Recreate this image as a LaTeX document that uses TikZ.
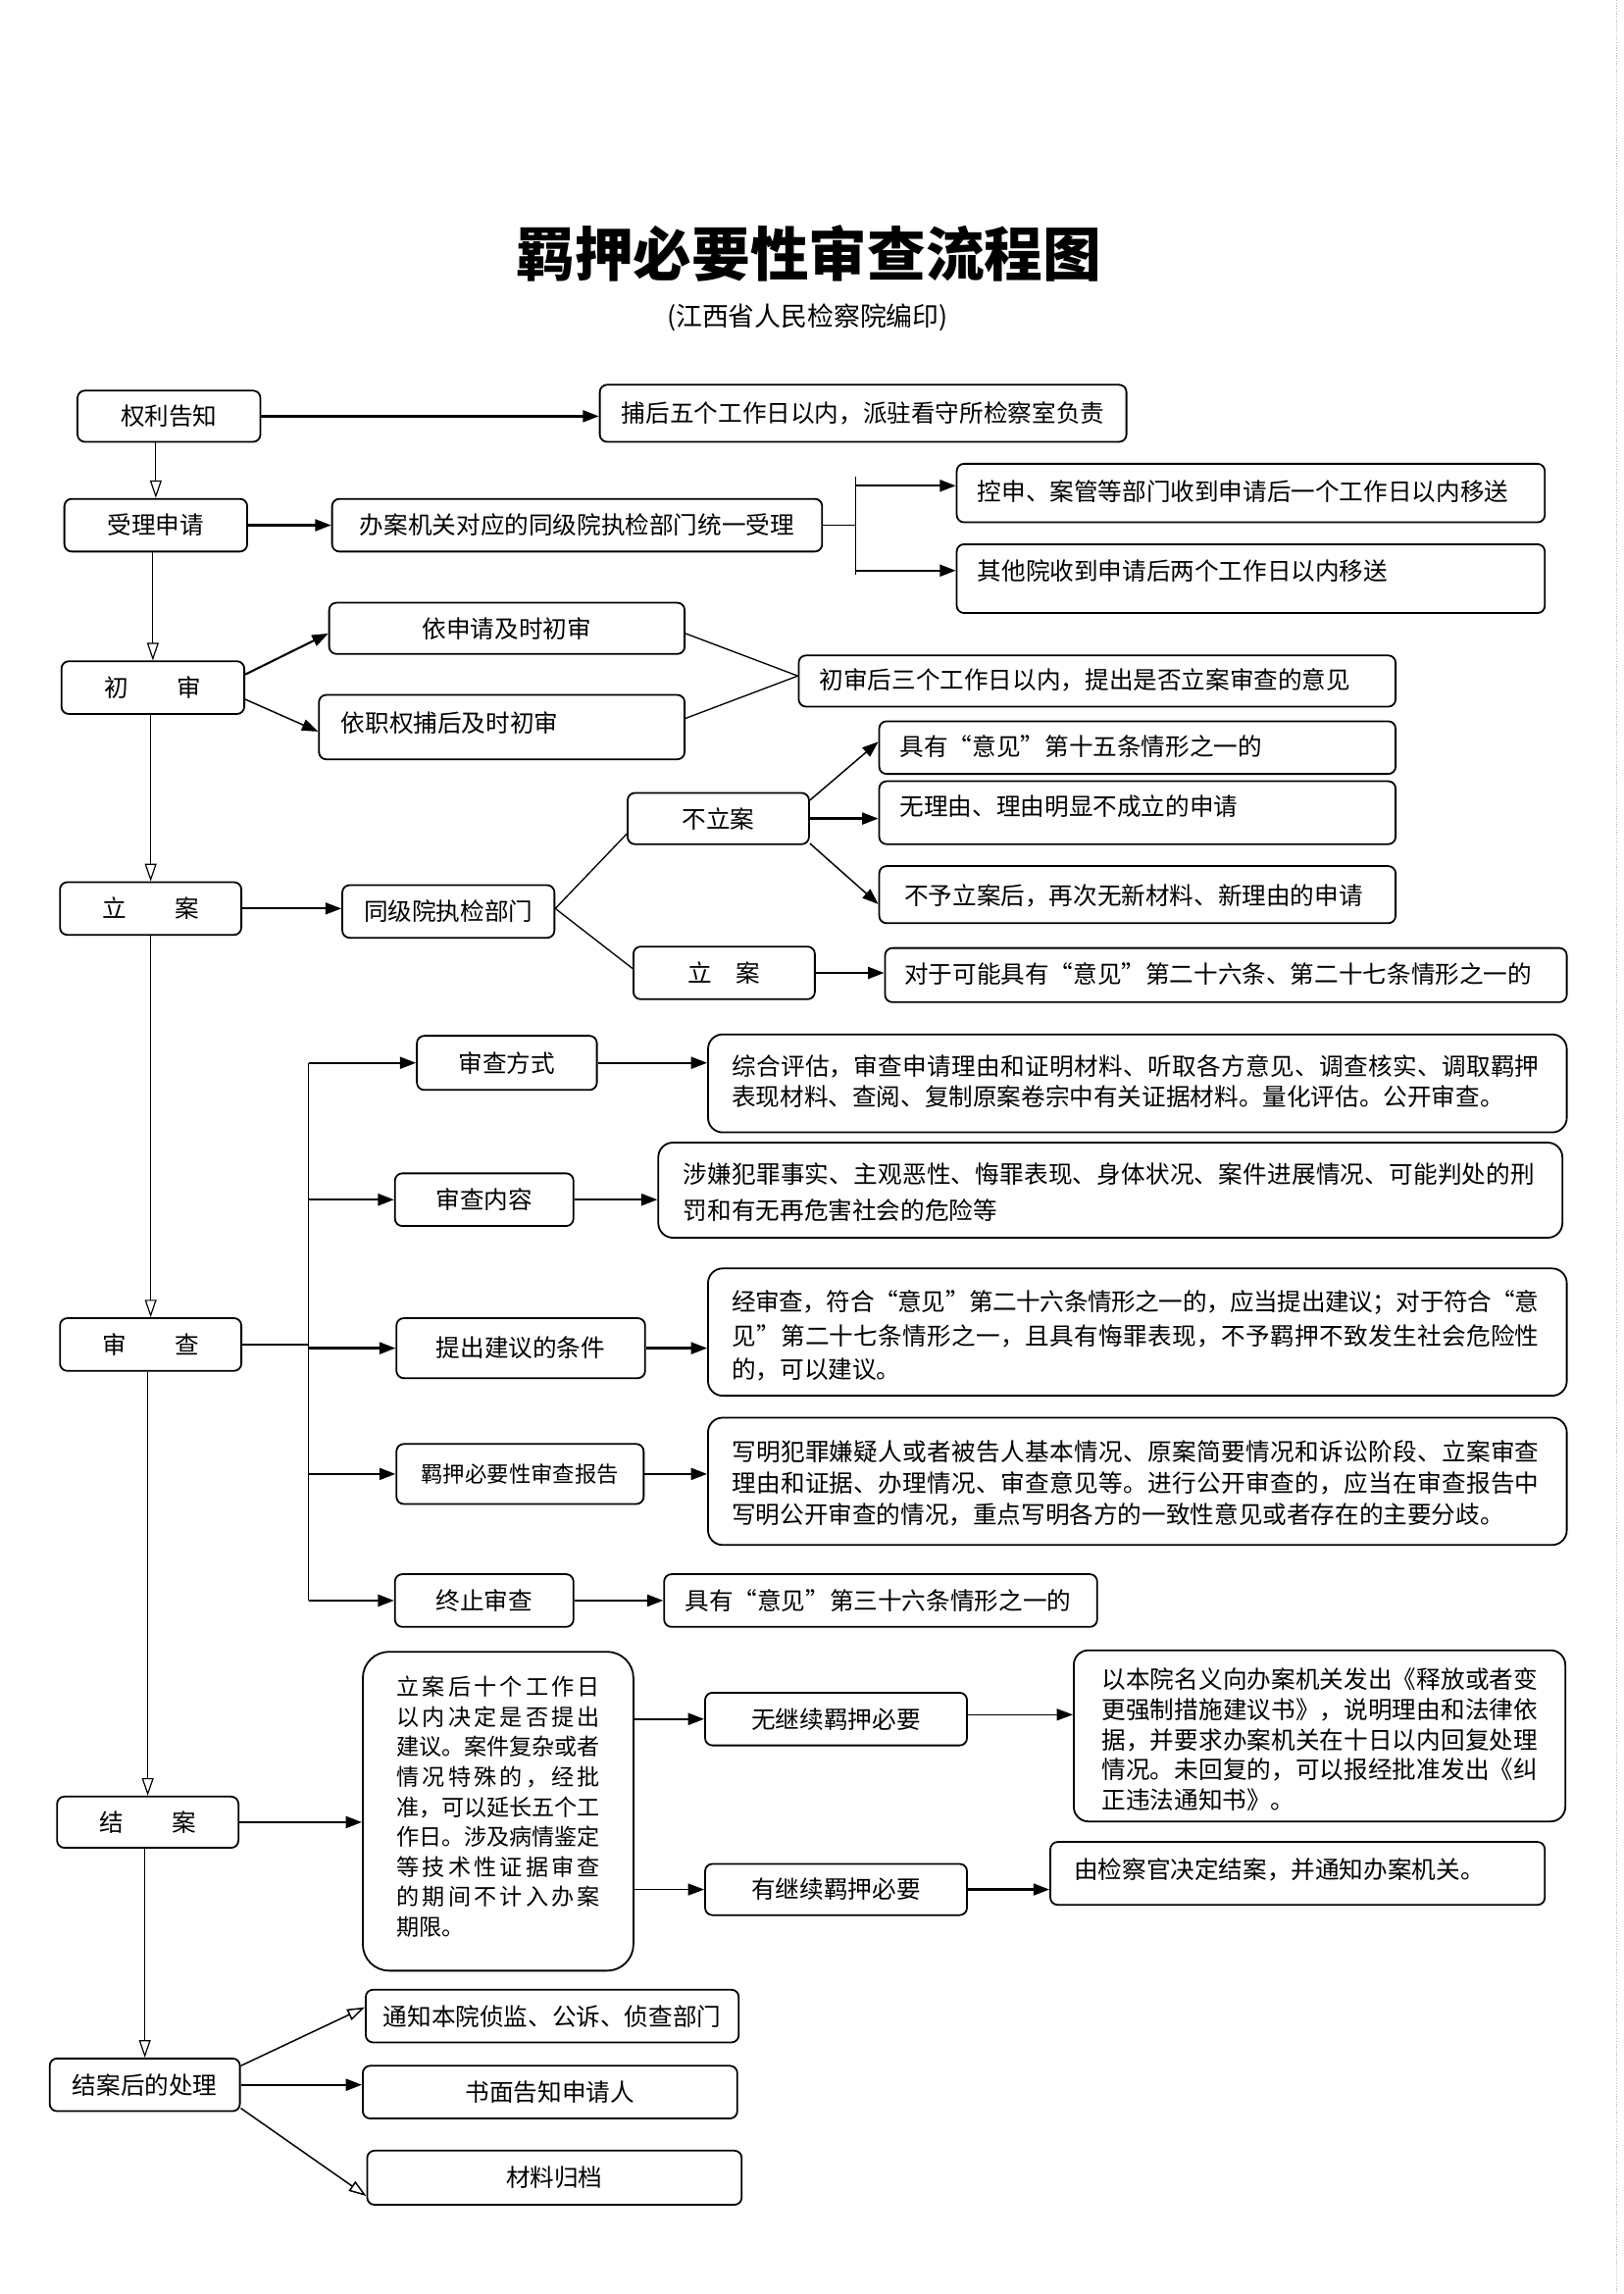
\documentclass[tikz,border=0pt]{standalone}
\usepackage{fontspec}
\setmainfont{Noto Sans CJK SC}
\usetikzlibrary{arrows.meta,fit,calc}
\makeatletter
\newcommand\jl[2]{\hbox to #1{\@tfor\jl@c:=#2\do{\jl@c\hskip0pt plus1fil minus.12em}\unskip}}
\makeatother
\begin{document}
\begin{tikzpicture}[x=1pt,y=-1pt,
 box/.style={draw, line width=1.2pt, rounded corners=5pt, inner sep=0pt},
 bigbox/.style={box, rounded corners=10pt},
 txt/.style={inner sep=0pt, font=\fontsize{16.5}{21}\selectfont},
 arr/.style={-{Triangle[length=11pt,width=8pt]}, line width=1.6pt},
 arrm/.style={-{Triangle[length=11pt,width=8pt]}, line width=1.0pt},
 arro/.style={-{Triangle[open,length=12pt,width=8pt]}, line width=0.8pt},
 ln/.style={line width=0.9pt}]
\useasboundingbox (0,0) rectangle (1110,1568);
\draw[gray!50, densely dotted, line width=0.8pt] (1105,0) -- (1105,1568);

% title
\node[inner sep=0pt, font=\fontsize{40}{40}\selectfont\bfseries] (title) at (553,173) {羁押必要性审查流程图};
\node[inner sep=0pt, font=\fontsize{18}{18}\selectfont] (subtitle) at (552,217) {(江西省人民检察院编印)};

% row 1
\node[box, fit={(53,267)(178,302)}] (quanli) {};
\node[txt] (quanliT) at (quanli.center) {权利告知};
\node[box, fit={(410,263)(770,302)}] (buhou) {};
\node[txt] (buhouT) at (buhou.center) {捕后五个工作日以内，派驻看守所检察室负责};

% row 2
\node[box, fit={(44,341)(169,377)}] (shouli) {};
\node[txt] (shouliT) at (shouli.center) {受理申请};
\node[box, fit={(227,341)(562,377)}] (banan) {};
\node[txt] (bananT) at (banan.center) {办案机关对应的同级院执检部门统一受理};
\node[box, fit={(654,317)(1056,357)}] (kongshen) {};
\node[txt, anchor=west] (kongshenT) at (668,336) {控申、案管等部门收到申请后一个工作日以内移送};
\node[box, fit={(654,372)(1056,419)}] (qita) {};
\node[txt, anchor=west] (qitaT) at (668,390) {其他院收到申请后两个工作日以内移送};

% chushen
\node[box, fit={(42,452)(167,488)}] (chushen) {};
\node[txt] (chushenT) at (chushen.center) {初\hspace{2em}审};
\node[box, fit={(225,412)(468,447)}] (yisq) {};
\node[txt] (yisqT) at (yisq.center) {依申请及时初审};
\node[box, fit={(218,475)(468,519)}] (yizq) {};
\node[txt, anchor=west] (yizqT) at (233,494) {依职权捕后及时初审};
\node[box, fit={(546,448)(954,483)}] (chushenhou) {};
\node[txt, anchor=west] (chushenhouT) at (560,465) {初审后三个工作日以内，提出是否立案审查的意见};

% lian
\node[box, fit={(41,603)(165,639)}] (lian1) {};
\node[txt] (lian1T) at (lian1.center) {立\hspace{2em}案};
\node[box, fit={(234,605)(379,641)}] (tongji) {};
\node[txt] (tongjiT) at (tongji.center) {同级院执检部门};
\node[box, fit={(429,542)(553,577)}] (bulian) {};
\node[txt] (bulianT) at (bulian.center) {不立案};
\node[box, fit={(433,647)(557,683)}] (lian2) {};
\node[txt] (lian2T) at (lian2.center) {立\hspace{1em}案};
\node[box, fit={(601,493)(954,529)}] (juyou15) {};
\node[txt, anchor=west] (juyou15T) at (615,510) {具有“意见”第十五条情形之一的};
\node[box, fit={(601,534)(954,577)}] (wuliyou) {};
\node[txt, anchor=west] (wuliyouT) at (615,551) {无理由、理由明显不成立的申请};
\node[box, fit={(601,592)(954,631)}] (buyu) {};
\node[txt, anchor=west] (buyuT) at (618,612) {不予立案后，再次无新材料、新理由的申请};
\node[box, fit={(605,648)(1071,685)}] (duiyu) {};
\node[txt, anchor=west] (duiyuT) at (618,666) {对于可能具有“意见”第二十六条、第二十七条情形之一的};

% shencha
\node[box, fit={(285,708)(408,745)}] (scfs) {};
\node[txt] (scfsT) at (scfs.center) {审查方式};
\node[bigbox, fit={(484,707)(1071,774)}] (zonghe) {};
\node[txt, anchor=west, align=left, font=\fontsize{16.5}{21}\selectfont] (zongheT) at (500,739) {\jl{552pt}{综合评估，审查申请理由和证明材料、听取各方意见、调查核实、调取羁押}\\表现材料、查阅、复制原案卷宗中有关证据材料。量化评估。公开审查。};
\node[box, fit={(270,802)(392,838)}] (scnr) {};
\node[txt] (scnrT) at (scnr.center) {审查内容};
\node[bigbox, fit={(450,781)(1068,846)}] (shexian) {};
\node[txt, anchor=west, align=left, font=\fontsize{16.5}{25}\selectfont] (shexianT) at (467,815) {\jl{582pt}{涉嫌犯罪事实、主观恶性、悔罪表现、身体状况、案件进展情况、可能判处的刑}\\罚和有无再危害社会的危险等};
\node[box, fit={(41,901)(165,937)}] (shencha) {};
\node[txt] (shenchaT) at (shencha.center) {审\hspace{2em}查};
\node[box, fit={(271,901)(441,942)}] (tichu) {};
\node[txt] (tichuT) at (tichu.center) {提出建议的条件};
\node[bigbox, fit={(484,867)(1071,954)}] (jingsc) {};
\node[txt, anchor=west, align=left, font=\fontsize{16.5}{23}\selectfont] (jingscT) at (500,913) {\jl{552pt}{经审查，符合“意见”第二十六条情形之一的，应当提出建议；对于符合“意}\\\jl{552pt}{见”第二十七条情形之一，且具有悔罪表现，不予羁押不致发生社会危险性}\\的，可以建议。};
\node[box, fit={(271,987)(440,1028)}] (baogao) {};
\node[txt, font=\fontsize{15}{18}\selectfont] (baogaoT) at (baogao.center) {羁押必要性审查报告};
\node[bigbox, fit={(484,969)(1071,1056)}] (xieming) {};
\node[txt, anchor=west, align=left, font=\fontsize{16.5}{21.5}\selectfont] (xiemingT) at (500,1014) {\jl{552pt}{写明犯罪嫌疑人或者被告人基本情况、原案简要情况和诉讼阶段、立案审查}\\\jl{552pt}{理由和证据、办理情况、审查意见等。进行公开审查的，应当在审查报告中}\\写明公开审查的情况，重点写明各方的一致性意见或者存在的主要分歧。};
\node[box, fit={(270,1076)(392,1112)}] (zhongzhi) {};
\node[txt] (zhongzhiT) at (zhongzhi.center) {终止审查};
\node[box, fit={(454,1076)(750,1112)}] (juyou36) {};
\node[txt, anchor=west] (juyou36T) at (468,1094) {具有“意见”第三十六条情形之一的};

% jiean
\node[box, fit={(39,1228)(163,1263)}] (jiean) {};
\node[txt] (jieanT) at (jiean.center) {结\hspace{2em}案};
\node[box, rounded corners=18pt, fit={(248,1129)(433,1347)}] (tall) {};
\node[txt, anchor=west, align=left, font=\fontsize{15.5}{20.5}\selectfont] (tallT) at (271,1235) {\jl{139pt}{立案后十个工作日}\\\jl{139pt}{以内决定是否提出}\\\jl{139pt}{建议。案件复杂或者}\\\jl{139pt}{情况特殊的，经批}\\\jl{139pt}{准，可以延长五个工}\\\jl{139pt}{作日。涉及病情鉴定}\\\jl{139pt}{等技术性证据审查}\\\jl{139pt}{的期间不计入办案}\\期限。};
\node[box, fit={(482,1157)(661,1193)}] (wujixu) {};
\node[txt] (wujixuT) at (wujixu.center) {无继续羁押必要};
\node[bigbox, fit={(734,1128)(1070,1245)}] (yibenyuan) {};
\node[txt, anchor=west, align=left, font=\fontsize{16.5}{20.5}\selectfont] (yibenyuanT) at (753,1189) {\jl{298pt}{以本院名义向办案机关发出《释放或者变}\\\jl{298pt}{更强制措施建议书》，说明理由和法律依}\\\jl{298pt}{据，并要求办案机关在十日以内回复处理}\\\jl{298pt}{情况。未回复的，可以报经批准发出《纠}\\正违法通知书》。};
\node[box, fit={(482,1274)(661,1309)}] (youjixu) {};
\node[txt] (youjixuT) at (youjixu.center) {有继续羁押必要};
\node[box, fit={(718,1259)(1056,1302)}] (youjcg) {};
\node[txt, anchor=west] (youjcgT) at (734,1278) {由检察官决定结案，并通知办案机关。};

% after
\node[box, fit={(34,1407)(164,1443)}] (jieanhou) {};
\node[txt] (jieanhouT) at (jieanhou.center) {结案后的处理};
\node[box, fit={(250,1360)(505,1396)}] (tongzhi) {};
\node[txt] (tongzhiT) at (tongzhi.center) {通知本院侦监、公诉、侦查部门};
\node[box, fit={(248,1412)(504,1448)}] (shumian) {};
\node[txt] (shumianT) at (shumian.center) {书面告知申请人};
\node[box, fit={(251,1470)(507,1507)}] (cailiao) {};
\node[txt] (cailiaoT) at (cailiao.center) {材料归档};

% ===== connectors =====
% main vertical
\draw[arro] (shouli.north |- quanli.south) -- (shouli.north);
\draw[arro] (chushen.north |- shouli.south) -- (chushen.north);
\draw[arro] (lian1.north |- chushen.south) -- (lian1.north);
\draw[arro] (shencha.north |- lian1.south) -- (shencha.north);
\draw[arro] (jiean.north |- shencha.south) -- (jiean.north);
\draw[arro] (jieanhou.north |- jiean.south) -- (jieanhou.north);

\draw[arr] (quanli.east) -- (quanli.east -| buhou.west);
\draw[arr] (shouli.east) -- (shouli.east -| banan.west);
\coordinate (sp) at (585,359);
\coordinate (spT) at (585,326);
\coordinate (spB) at (585,393);
\draw[line width=1.3pt] (banan.east) -- (sp);
\draw[ln] (spT) -- (spB);
\coordinate (k1) at ([yshift=5pt]kongshen.west);
\coordinate (q1) at ([yshift=5.5pt]qita.west);
\draw[arr] (sp |- k1) -- (k1);
\draw[arr] (sp |- q1) -- (q1);

% chushen
\draw[arr, line width=1.4pt] ([yshift=9pt]chushen.east) -- ([yshift=-3.5pt]yisq.west);
\draw[arrm] ([yshift=-8pt]chushen.east) -- ([yshift=-3pt]yizq.west);
\draw[ln] ([yshift=-3.5pt]yisq.east) -- ([yshift=3.5pt]chushenhou.west);
\draw[ln] ([yshift=6pt]yizq.east) -- ([yshift=3.5pt]chushenhou.west);

% lian
\draw[arrm, line width=1.3pt] (lian1.east) -- (lian1.east -| tongji.west);
\draw[ln] ([yshift=2pt]tongji.east) -- ([yshift=-10.5pt]bulian.west);
\draw[ln] ([yshift=2pt]tongji.east) -- ([yshift=3pt]lian2.west);
\draw[arrm] ([yshift=12.5pt]bulian.east) -- ([yshift=4pt]juyou15.west);
\draw[arr] (bulian.east) -- (bulian.east -| wuliyou.west);
\draw[arrm] ([yshift=-17pt]bulian.east) -- ([yshift=-6.5pt]buyu.west);
\draw[arr] (lian2.east) -- (lian2.east -| duiyu.west);

% shencha branch
\coordinate (br) at (211,919);
\draw[line width=1.3pt] (shencha.east) -- (br);
\draw[ln] (br |- scfs.west) -- (br |- zhongzhi.west);
\draw[arr] (br |- scfs.west) -- (scfs.west);
\draw[arr] (br |- scnr.west) -- (scnr.west);
\draw[arr] (br |- tichu.west) -- (tichu.west);
\draw[arr] (br |- baogao.west) -- (baogao.west);
\draw[arr] (br |- zhongzhi.west) -- (zhongzhi.west);
\draw[arr] (scfs.east) -- (scfs.east -| zonghe.west);
\draw[arr] (scnr.east) -- (scnr.east -| shexian.west);
\draw[arr] (tichu.east) -- (tichu.east -| jingsc.west);
\draw[arr] (baogao.east) -- (baogao.east -| xieming.west);
\draw[arr] (zhongzhi.east) -- (zhongzhi.east -| juyou36.west);

% jiean
\draw[arr] (jiean.east) -- (jiean.east -| tall.west);
\draw[arr] (tall.east |- wujixu.west) -- (wujixu.west);
\draw[arrm] (tall.east |- youjixu.west) -- (youjixu.west);
\draw[arrm] ([yshift=3pt]wujixu.east) -- ([yshift=3pt]wujixu.east -| yibenyuan.west);
\draw[arr] (youjixu.east) -- (youjixu.east -| youjcg.west);

% after
\draw[arro, line width=1pt] ([yshift=13pt]jieanhou.east) -- ([yshift=6pt]tongzhi.west);
\draw[arr] (jieanhou.east) -- (jieanhou.east -| shumian.west);
\draw[arro, line width=1pt] ([yshift=-16pt]jieanhou.east) -- ([yshift=-12.5pt]cailiao.west);
\end{tikzpicture}
\end{document}
